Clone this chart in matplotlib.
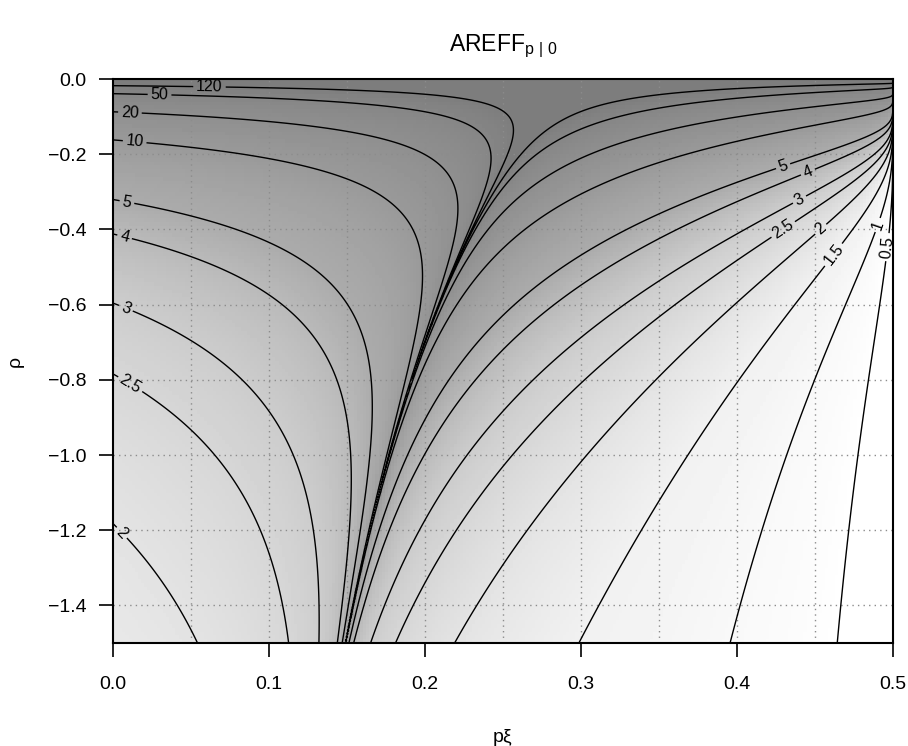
import numpy as np
import matplotlib
matplotlib.use("Agg")
import matplotlib.pyplot as plt

plt.rcParams['font.family'] = ['Liberation Sans', 'DejaVu Sans']
plt.rcParams['mathtext.fontset'] = 'custom'
plt.rcParams['mathtext.rm'] = 'Liberation Sans'

# ---- data ----
levels = [0.5, 1, 1.5, 2, 2.5, 3, 4, 5, 10, 20, 50, 120]
level_labels = ["0.5", "1", "1.5", "2", "2.5", "3", "4", "5", "10", "20", "50", "120"]
xticks = [0.0, 0.1, 0.2, 0.3, 0.4, 0.5]
yticks = [-1.4, -1.2, -1.0, -0.8, -0.6, -0.4, -0.2, 0.0]
xgrid = [0.05, 0.10, 0.15, 0.20, 0.25, 0.30, 0.35, 0.40, 0.45]
ygrid = [-1.4, -1.2, -1.0, -0.8, -0.6, -0.4, -0.2]
x_range = [0.0, 0.5]
rho_range = [-1.5, 0.0]
# shading anchors: AREFF value -> gray level
shade_vals = [0.5, 1, 1.5, 2, 3, 5, 10, 20, 120]
shade_gray = [1.0, 0.975, 0.945, 0.89, 0.80, 0.67, 0.60, 0.56, 0.49]
# contour label positions (pxi, rho)
label_pos = [(0.062, -0.024), (0.030, -0.045), (0.011, -0.093), (0.014, -0.170),
             (0.009, -0.330), (0.007, -0.430), (0.008, -0.614), (0.010, -0.820),
             (0.005, -1.210),
             (0.430, -0.237), (0.446, -0.253), (0.440, -0.320), (0.429, -0.396),
             (0.453, -0.396), (0.458, -0.455), (0.490, -0.388), (0.496, -0.447)]


def areff(a, r):
    phi = 1 - r / 2 - np.sqrt((1 - r / 2) ** 2 - 0.5)
    bp = (1 - a) / (1 - a - r) - (1 - phi) / (1 - phi - r)
    b0 = 1 / (1 - r)
    V = (1 - a) ** 2 / (1 - 2 * a)
    return (V ** (2 * r) * b0 / np.abs(bp)) ** (1 / (1 - 2 * r))


W, H = 908, 746
fig = plt.figure(figsize=(W / 100, H / 100), dpi=100)
L, R, T, B = 112.7, 893, 79, 643
ax = fig.add_axes([L / W, 1 - B / H, (R - L) / W, (B - T) / H])

with np.errstate(all='ignore'):
    # coarse image
    xc = np.linspace(x_range[0] + 0.001, x_range[1] - 0.001, 250)
    rc = np.linspace(rho_range[0] + 0.005, rho_range[1] - 0.005, 150)
    XC, RC = np.meshgrid(xc, rc)
    ZC = areff(XC, RC)
    lz = np.log(np.clip(ZC, 1e-6, 1e6))
    G = np.interp(lz, np.log(shade_vals), shade_gray)
    ax.imshow(G, extent=[x_range[0], x_range[1], rho_range[0], rho_range[1]],
              origin='lower', interpolation='nearest', aspect='auto',
              cmap='gray', vmin=0, vmax=1, zorder=0)

    # fine grid for contours
    xf = np.linspace(x_range[0], x_range[1] - 0.0001, 1201)
    rf = np.linspace(rho_range[0], rho_range[1] - 0.0005, 901)
    XF, RF = np.meshgrid(xf, rf)
    ZF = areff(XF, RF)
    ZF = np.where(np.isfinite(ZF), ZF, 1e6)

for gx in xgrid:
    ax.axvline(gx, color='#8c8c8c', lw=1.0, ls=(0, (1, 3)), zorder=1)
for gy in ygrid:
    ax.axhline(gy, color='#8c8c8c', lw=1.0, ls=(0, (1, 3)), zorder=1)

ax.set_xlim(x_range)
ax.set_ylim(rho_range)

cs = ax.contour(XF, RF, ZF, levels=levels, colors='black', linewidths=1.0, zorder=2)
fmt = {lv: lab for lv, lab in zip(levels, level_labels)}
ax.clabel(cs, fmt=fmt, manual=label_pos, inline=True, inline_spacing=3, fontsize=11.5)

ax.set_xticks(xticks)
ax.set_xticklabels([f"{v:.1f}" for v in xticks])
ax.set_yticks(yticks)
ax.set_yticklabels([f"{v:.1f}".replace('-', '\u2212') for v in yticks])
ax.tick_params(direction='out', length=10, width=1.2, labelsize=14, pad=14)
ax.tick_params(axis='y', pad=9)
for s in ax.spines.values():
    s.set_linewidth(1.5)

fig.text(503 / W, 1 - 51 / H, r'$\mathregular{AREFF}_{\mathregular{p\ |\ 0}}$',
         ha='center', va='baseline', fontsize=16.5)
fig.text(503 / W, 1 - 738 / H, 'p\u03be', ha='center', va='center', fontsize=14)
fig.text(15 / W, 1 - 361 / H, '\u03c1', ha='center', va='center', rotation=90, fontsize=14)

fig.savefig('out.png', dpi=100)
